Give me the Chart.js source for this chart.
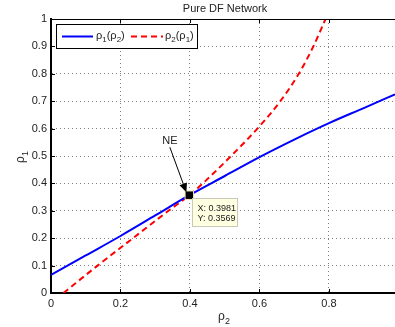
<!DOCTYPE html>
<html>
<head>
<meta charset="utf-8">
<script src="https://cdn.jsdelivr.net/npm/chart.js@4"></script>
<style>
  html, body { margin: 0; padding: 0; background: #fff; overflow: hidden; }
  canvas { display: block; }
</style>
</head>
<body>
<canvas id="neChart" width="395" height="327"></canvas>
<script>
// rho1 as a function of rho2 (best response of node 1)
const rho2Grid = [0, 0.1, 0.2, 0.3, 0.3981, 0.5, 0.6, 0.7, 0.8, 0.9, 0.99];
const rho1OfRho2 = [0.066, 0.137, 0.208, 0.283, 0.3569, 0.427, 0.496, 0.560, 0.620, 0.675, 0.725];

// rho2 as a function of rho1 (best response of node 2)
const rho1Grid = [0, 0.1, 0.2, 0.3, 0.3569, 0.4, 0.5, 0.6, 0.7, 0.8, 0.9, 1.0];
const rho2OfRho1 = [0.036, 0.134, 0.236, 0.338, 0.3981, 0.437, 0.518, 0.594, 0.660, 0.713, 0.755, 0.790];

// Nash equilibrium where the two curves cross
const neRho2 = 0.3981;
const neRho1 = 0.3569;

const xTicks = [0, 0.2, 0.4, 0.6, 0.8];
const yTicks = [0, 0.1, 0.2, 0.3, 0.4, 0.5, 0.6, 0.7, 0.8, 0.9, 1];

const FONT = '"Liberation Sans", Arial, Helvetica, sans-serif';
const TEXT = '#222';

// text with subscripts, parts = [[str, isSub], ...]
function subWidth(ctx, parts, size) {
  let w = 0;
  parts.forEach(([t, sub]) => {
    ctx.font = (sub ? Math.round(size * 0.75) : size) + 'px ' + FONT;
    w += ctx.measureText(t).width;
  });
  return w;
}
function drawSub(ctx, parts, x, y, size) {
  let cx = x;
  parts.forEach(([t, sub]) => {
    ctx.font = (sub ? Math.round(size * 0.75) : size) + 'px ' + FONT;
    ctx.fillText(t, cx, sub ? y + size * 0.3 : y);
    cx += ctx.measureText(t).width;
  });
}

const rho1Label = [['ρ', false], ['1', true], ['(ρ', false], ['2', true], [')', false]];
const rho2Label = [['ρ', false], ['2', true], ['(ρ', false], ['1', true], [')', false]];

const decorations = {
  id: 'decorations',
  afterDraw(chart) {
    const ctx = chart.ctx;
    const a = chart.chartArea;
    const xs = chart.scales.x, ys = chart.scales.y;
    ctx.save();

    // box top edge and inward tick marks
    ctx.strokeStyle = '#000';
    ctx.lineWidth = 1;
    ctx.beginPath();
    ctx.moveTo(a.left, a.top + 0.5);
    ctx.lineTo(a.right, a.top + 0.5);
    xTicks.forEach(v => {
      const px = Math.round(xs.getPixelForValue(v)) + 0.5;
      ctx.moveTo(px, a.bottom); ctx.lineTo(px, a.bottom - 4);
      ctx.moveTo(px, a.top); ctx.lineTo(px, a.top + 4);
    });
    yTicks.forEach(v => {
      const py = Math.round(ys.getPixelForValue(v)) + 0.5;
      ctx.moveTo(a.left, py); ctx.lineTo(a.left + 4, py);
    });
    ctx.stroke();

    // title
    ctx.fillStyle = TEXT;
    ctx.font = '11px ' + FONT;
    ctx.textAlign = 'center';
    ctx.textBaseline = 'middle';
    ctx.fillText('Pure DF Network', 225, 9);

    // axis titles
    ctx.textAlign = 'left';
    ctx.textBaseline = 'alphabetic';
    const xt = [['ρ', false], ['2', true]];
    drawSub(ctx, xt, 224 - subWidth(ctx, xt, 12) / 2, 320, 12);
    ctx.save();
    ctx.translate(24, 157);
    ctx.rotate(-Math.PI / 2);
    const yt = [['ρ', false], ['1', true]];
    drawSub(ctx, yt, -subWidth(ctx, yt, 12) / 2, 0, 12);
    ctx.restore();

    // legend
    ctx.fillStyle = '#fff';
    ctx.fillRect(56.5, 24.5, 141, 24);
    ctx.strokeStyle = '#000';
    ctx.lineWidth = 1;
    ctx.strokeRect(56.5, 24.5, 141, 24);
    ctx.lineWidth = 2;
    ctx.strokeStyle = '#0000ff';
    ctx.beginPath(); ctx.moveTo(62, 36.5); ctx.lineTo(93, 36.5); ctx.stroke();
    ctx.strokeStyle = '#ff0000';
    ctx.setLineDash([6, 4]);
    ctx.beginPath(); ctx.moveTo(131, 36.5); ctx.lineTo(163, 36.5); ctx.stroke();
    ctx.setLineDash([]);
    ctx.fillStyle = TEXT;
    drawSub(ctx, rho1Label, 96, 39, 11);
    drawSub(ctx, rho2Label, 165, 39, 11);

    // NE annotation arrow
    const mx = xs.getPixelForValue(neRho2);
    const my = ys.getPixelForValue(neRho1);
    const sx = mx - 19.5, sy = my - 48;
    const ex = mx - 3, ey = my - 3;
    const ang = Math.atan2(ey - sy, ex - sx);
    ctx.strokeStyle = '#000';
    ctx.fillStyle = '#000';
    ctx.lineWidth = 1;
    ctx.beginPath(); ctx.moveTo(sx, sy); ctx.lineTo(ex - 6 * Math.cos(ang), ey - 6 * Math.sin(ang)); ctx.stroke();
    ctx.beginPath();
    ctx.moveTo(ex, ey);
    ctx.lineTo(ex - 9 * Math.cos(ang) + 4 * Math.sin(ang), ey - 9 * Math.sin(ang) - 4 * Math.cos(ang));
    ctx.lineTo(ex - 9 * Math.cos(ang) - 4 * Math.sin(ang), ey - 9 * Math.sin(ang) + 4 * Math.cos(ang));
    ctx.closePath();
    ctx.fill();
    ctx.font = '11px ' + FONT;
    ctx.textAlign = 'center';
    ctx.textBaseline = 'middle';
    ctx.fillStyle = TEXT;
    ctx.fillText('NE', mx - 19.5, my - 54);

    // data tip
    const bx = Math.round(mx) + 3.5, by = Math.round(my) + 3.5;
    ctx.fillStyle = '#ffffe1';
    ctx.fillRect(bx, by, 45, 28);
    ctx.strokeStyle = '#c9c9b8';
    ctx.strokeRect(bx, by, 45, 28);
    ctx.fillStyle = TEXT;
    ctx.font = '9px ' + FONT;
    ctx.textAlign = 'left';
    ctx.fillText('X: ' + neRho2.toFixed(4), bx + 5, by + 10);
    ctx.fillText('Y: ' + neRho1.toFixed(4), bx + 5, by + 20);

    ctx.restore();
  }
};

const ctx = document.getElementById('neChart').getContext('2d');
new Chart(ctx, {
  type: 'scatter',
  data: {
    datasets: [
      {
        label: 'ρ1(ρ2)',
        data: rho2Grid.map((x, i) => ({ x: x, y: rho1OfRho2[i] })),
        showLine: true,
        borderColor: '#0000ff',
        borderWidth: 2,
        pointRadius: 0,
        cubicInterpolationMode: 'monotone'
      },
      {
        label: 'ρ2(ρ1)',
        data: rho1Grid.map((y, i) => ({ x: rho2OfRho1[i], y: y })),
        showLine: true,
        borderColor: '#ff0000',
        borderWidth: 2,
        borderDash: [6, 4],
        pointRadius: 0,
        cubicInterpolationMode: 'monotone'
      },
      {
        // marker drawn above both curves
        label: 'NE',
        order: -1,
        data: [{ x: neRho2, y: neRho1 }],
        pointStyle: 'rect',
        pointRadius: 6,
        backgroundColor: '#000',
        borderColor: '#eee9b8',
        borderWidth: 1
      }
    ]
  },
  options: {
    responsive: false,
    animation: false,
    layout: { autoPadding: false, padding: { top: 19, right: 0, bottom: 0, left: 0 } },
    plugins: {
      legend: { display: false },
      tooltip: { enabled: false },
      title: { display: false }
    },
    scales: {
      x: {
        type: 'linear',
        min: 0,
        max: 0.99,
        afterBuildTicks: s => { s.ticks = xTicks.map(v => ({ value: v })); },
        afterFit: s => { s.height = 34; s.paddingLeft = 0; s.paddingRight = 0; },
        grid: { color: 'rgba(0,0,0,0.5)', drawTicks: false },
        border: { color: '#000', width: 2, dash: [1, 3] },
        ticks: {
          padding: 4,
          color: TEXT,
          font: { family: FONT, size: 11 },
          callback: v => String(v)
        }
      },
      y: {
        type: 'linear',
        min: 0,
        max: 1,
        afterBuildTicks: s => { s.ticks = yTicks.map(v => ({ value: v })); },
        afterFit: s => { s.width = 51; },
        grid: { color: 'rgba(0,0,0,0.5)', drawTicks: false },
        border: { color: '#000', width: 2, dash: [1, 3] },
        ticks: {
          padding: 4,
          color: TEXT,
          font: { family: FONT, size: 11 },
          callback: v => String(v)
        }
      }
    }
  },
  plugins: [decorations]
});
</script>
</body>
</html>
